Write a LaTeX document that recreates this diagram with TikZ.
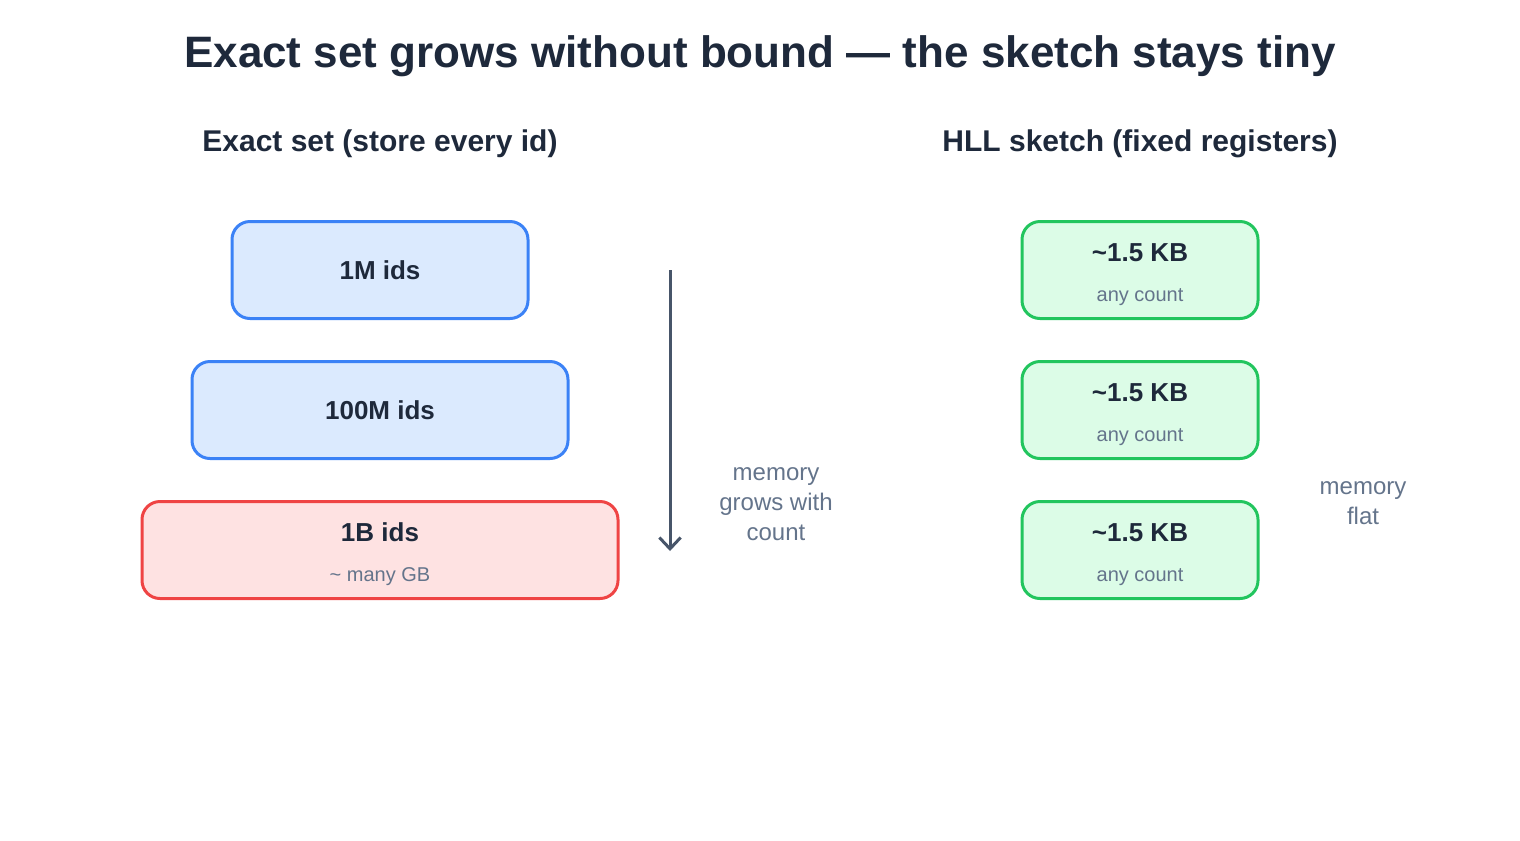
\documentclass[tikz,border=0pt]{standalone}
\usepackage{fontspec}
\setmainfont{Liberation Sans}
\usetikzlibrary{arrows.meta}
\definecolor{ink}{HTML}{1E293B}
\definecolor{muted}{HTML}{64748B}
\definecolor{arrowgray}{HTML}{475569}
\definecolor{blueline}{HTML}{3B82F6}
\definecolor{bluefill}{HTML}{DBEAFE}
\definecolor{redline}{HTML}{EF4444}
\definecolor{redfill}{HTML}{FEE2E2}
\definecolor{greenline}{HTML}{22C55E}
\definecolor{greenfill}{HTML}{DCFCE7}

\begin{document}
\begin{tikzpicture}[x=0.75pt,y=-0.75pt,
  box/.style={rounded corners=13.5pt,line width=2.25pt,minimum height=72.75pt,inner sep=0pt},
  exactbox/.style={box,draw=blueline,fill=bluefill},
  bigbox/.style={box,draw=redline,fill=redfill},
  hllbox/.style={box,draw=greenline,fill=greenfill,minimum width=177pt},
  boxlabel/.style={text=ink,font=\fontsize{19.5}{23}\selectfont\bfseries,inner sep=0pt},
  sublabel/.style={text=muted,font=\fontsize{15}{18}\selectfont,inner sep=0pt},
  sidenote/.style={text=muted,font=\fontsize{18}{22.5}\selectfont,align=center,inner sep=0pt},
  heading/.style={text=ink,font=\fontsize{22.5}{27}\selectfont\bfseries,inner sep=0pt}]
\useasboundingbox (0,0) rectangle (1520,840);

% title and column headings
\node[text=ink,font=\fontsize{33}{40}\selectfont\bfseries,inner sep=0pt] (title) at (760,56) {Exact set grows without bound — the sketch stays tiny};
\node[heading] (lefthead) at (380,144) {Exact set (store every id)};
\node[heading] (righthead) at (1140,144) {HLL sketch (fixed registers)};

% exact set, one box per size
\node[exactbox,minimum width=222pt] (ids1m) at (380,270) {};
\node[boxlabel] (ids1mtxt) at (380,270) {1M ids};
\node[exactbox,minimum width=282pt] (ids100m) at (380,410) {};
\node[boxlabel] (ids100mtxt) at (380,410) {100M ids};
\node[bigbox,minimum width=357pt] (ids1b) at (380,550) {};
\node[boxlabel] (ids1btxt) at (380,532) {1B ids};
\node[sublabel] (ids1bsub) at (380,577) {\textasciitilde{} many GB};

% growth arrow
\coordinate (growtop) at (670,270);
\coordinate (growbot) at (670,551);
\draw[arrowgray,line width=2.25pt,-{Straight Barb[length=8.5pt,width=16pt,line width=2.25pt]}] (growtop) -- (growbot);
\node[sidenote] (grownote) at (776,504) {memory\\grows with\\count};

% sketch, same size each time
\foreach \y [count=\i] in {270,410,550} {
  \node[hllbox] (hll\i) at (1140,\y) {};
  \node[boxlabel] (hll\i txt) at (1140,\y-17) {\textasciitilde1.5 KB};
  \node[sublabel] (hll\i sub) at (1140,\y+27) {any count};
}
\node[sidenote] (flatnote) at (1363,503) {memory\\flat};

\end{tikzpicture}
\end{document}
